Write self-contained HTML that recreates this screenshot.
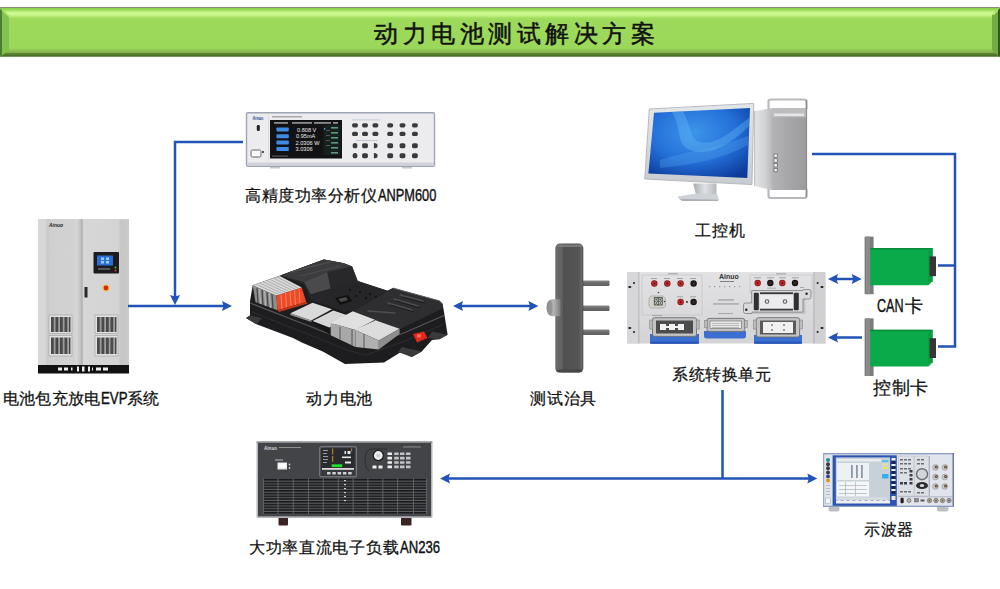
<!DOCTYPE html>
<html><head><meta charset="utf-8">
<style>
html,body{margin:0;padding:0;background:#fff;}
body{width:1000px;height:589px;position:relative;overflow:hidden;font-family:"Liberation Sans",sans-serif;}
.bar{position:absolute;left:0;top:7px;width:1000px;height:50px;
background:linear-gradient(to bottom,#8b8a7a 0px,#8b8a7a 0.8px,#8ed24c 1.2px,#98de58 3px,#c6f488 5px,#d2f994 7px,#bdef7c 9px,#a2dd60 11px,#9dd95a 13px,#9bd75a 41px,#92c756 43px,#84ae4e 45.5px,#5c8634 46.5px,#4a7326 48.5px,#8fa47e 50px);}
.bl{position:absolute;left:0;top:7px;width:9px;height:50px;}
.br{position:absolute;right:0;top:7px;width:9px;height:50px;}
.title{position:absolute;left:374px;top:16.5px;font-size:23.5px;letter-spacing:4.5px;-webkit-text-stroke:0.5px #111;color:#111;white-space:nowrap;line-height:34px;}
.lbl{position:absolute;white-space:nowrap;color:#111;line-height:20px;-webkit-text-stroke:0.25px #111;z-index:5}
.lat{transform:scaleX(0.78);transform-origin:0 0;-webkit-text-stroke:0.4px #111;}
svg{position:absolute;left:0;top:0;}
</style></head><body>
<div class="bar"></div>
<svg width="1000" height="589" viewBox="0 0 1000 589" style="z-index:1">
  <!-- bevel left -->
  <polygon points="0,7 9,16 9,50 0,57" fill="#82c24f"/>
  <polygon points="0,7 2,9 2,55 0,57" fill="#4d7d2f"/>
  <polygon points="0,7 9,16 9,18 0,9" fill="#b4ec78" opacity="0.6"/>
  <!-- bevel right -->
  <polygon points="1000,7 992,15 992,50 1000,57" fill="#74ac44"/>
  <polygon points="1000,7 992,15 994,15 1000,9" fill="#b4ea7c"/>
  <polygon points="1000,8 998,10 998,55 1000,57" fill="#2f5a1a"/>
</svg>

<svg width="1000" height="589" viewBox="0 0 1000 589" style="z-index:1">
<defs>
  <linearGradient id="gCab" x1="0" x2="1" y1="0" y2="0">
    <stop offset="0" stop-color="#d8d8d8"/><stop offset="0.08" stop-color="#d6d6d6"/><stop offset="0.1" stop-color="#c9c9c9"/><stop offset="0.14" stop-color="#d0d0d0"/>
    <stop offset="0.4" stop-color="#d2d2d2"/><stop offset="0.42" stop-color="#d8d8d8"/><stop offset="0.46" stop-color="#c6c6c6"/>
    <stop offset="0.485" stop-color="#b0b0b0"/><stop offset="0.5" stop-color="#d6d6d6"/><stop offset="0.88" stop-color="#d4d4d4"/>
    <stop offset="0.91" stop-color="#c6c6c6"/><stop offset="1" stop-color="#cbcbcb"/>
  </linearGradient>
  <pattern id="pVent" x="51" y="0" width="4.5" height="4" patternUnits="userSpaceOnUse">
    <rect width="4.5" height="4" fill="#4a4a4a"/><rect x="2.8" width="1.7" height="4" fill="#a0a0a0"/>
  </pattern>
  <pattern id="pVent2" x="97" y="0" width="4.5" height="4" patternUnits="userSpaceOnUse">
    <rect width="4.5" height="4" fill="#4a4a4a"/><rect x="2.8" width="1.7" height="4" fill="#a0a0a0"/>
  </pattern>
</defs>

<!-- Power analyzer -->
<g id="anpm">
  <rect x="246.5" y="112.8" width="188" height="53.5" rx="1.5" fill="#ececee" stroke="#9ea4b4" stroke-width="1.4"/>
  <rect x="247.2" y="162.5" width="186.6" height="3.3" fill="#cfd2da"/>
  <rect x="268" y="115" width="1" height="46" fill="#dcdcdf"/>
  <text x="252.5" y="119.5" font-family="Liberation Sans" font-size="5" font-weight="bold" fill="#2a4a8a" textLength="11" lengthAdjust="spacingAndGlyphs">Ainuo</text>
  <rect x="256.8" y="125" width="3" height="6" rx="1.2" fill="#222"/>
  <rect x="251" y="150" width="10" height="7" rx="1.5" fill="#fafafa" stroke="#666" stroke-width="1"/>
  <rect x="262" y="151" width="2" height="2" fill="#555"/>
  <rect x="272" y="116.2" width="30" height="1.2" fill="#9a9a9a"/>
  <rect x="270" y="120" width="72" height="38.5" fill="#121214"/>
  <g fill="#8a8c90"><rect x="274" y="122" width="14" height="1.8"/><rect x="292" y="122" width="20" height="1.8"/><rect x="314" y="122" width="17" height="1.8"/><rect x="333" y="122" width="5" height="1.8"/></g>
  <g fill="#3d8be6">
    <rect x="276.4" y="127.4" width="12.4" height="4" rx="0.8"/>
    <rect x="276.4" y="134.2" width="12.4" height="4" rx="0.8"/>
    <rect x="276.4" y="140.6" width="12.4" height="4" rx="0.8"/>
    <rect x="276.4" y="147" width="12.4" height="4" rx="0.8"/>
  </g>
  <g fill="#ececec" font-family="Liberation Sans" font-size="5.6">
    <text x="297" y="131.6">0.808 V</text>
    <text x="296" y="138.4">0.95mA</text>
    <text x="295.5" y="144.8">2.0306 W</text>
    <text x="295.5" y="151.2">3.0306</text>
  </g>
  <rect x="323.5" y="125" width="17" height="30" fill="#16201c"/>
  <circle cx="324.6" cy="128.8" r="0.9" fill="#4a9ae8"/>
  <g fill="#5a9a82"><rect x="331" y="127" width="7" height="1.6"/><rect x="331" y="132" width="7" height="1.6"/><rect x="331" y="137" width="7" height="1.6"/><rect x="331" y="142" width="7" height="1.6"/><rect x="331" y="147" width="7" height="1.6"/><rect x="331" y="152" width="7" height="1.6"/></g>
  <g fill="#5a5060"><rect x="326" y="130" width="4" height="1"/><rect x="326" y="135" width="4" height="1"/><rect x="326" y="140" width="4" height="1"/><rect x="326" y="145" width="4" height="1"/></g>
  <rect x="272" y="155.5" width="16" height="1.2" fill="#555"/>
  <g fill="#3a3a3c">
    <rect x="352.1" y="123.14999999999999" width="5.8" height="4.3" rx="1.6"/>
    <rect x="362.1" y="123.14999999999999" width="5.8" height="4.3" rx="1.6"/>
    <rect x="372.5" y="123.14999999999999" width="5.8" height="4.3" rx="1.6"/>
    <rect x="387.3" y="123.14999999999999" width="5.8" height="4.3" rx="1.6"/>
    <rect x="399.6" y="123.14999999999999" width="5.8" height="4.3" rx="1.6"/>
    <rect x="412.0" y="123.14999999999999" width="5.8" height="4.3" rx="1.6"/>
    <rect x="352.1" y="131.75" width="5.8" height="4.3" rx="1.6"/>
    <rect x="362.1" y="131.75" width="5.8" height="4.3" rx="1.6"/>
    <rect x="372.5" y="131.75" width="5.8" height="4.3" rx="1.6"/>
    <rect x="387.3" y="131.75" width="5.8" height="4.3" rx="1.6"/>
    <rect x="399.6" y="131.75" width="5.8" height="4.3" rx="1.6"/>
    <rect x="412.0" y="131.75" width="5.8" height="4.3" rx="1.6"/>
    <ellipse cx="355" cy="145.7" rx="2.4" ry="2.6"/>
    <rect x="362.1" y="143.2" width="5.8" height="5.0" rx="1.6"/>
    <path d="M373.9,143.1 Q377.59999999999997,143.1 377.59999999999997,145.7 Q377.59999999999997,148.29999999999998 373.9,148.29999999999998 Z"/>
    <rect x="387.3" y="143.2" width="5.8" height="5.0" rx="1.6"/>
    <rect x="399.6" y="143.2" width="5.8" height="5.0" rx="1.6"/>
    <rect x="412.0" y="143.2" width="5.8" height="5.0" rx="1.6"/>
    <ellipse cx="355" cy="155.7" rx="2.4" ry="2.6"/>
    <rect x="362.1" y="153.2" width="5.8" height="5.0" rx="1.6"/>
    <path d="M373.9,153.1 Q377.59999999999997,153.1 377.59999999999997,155.7 Q377.59999999999997,158.29999999999998 373.9,158.29999999999998 Z"/>
    <rect x="387.3" y="153.2" width="5.8" height="5.0" rx="1.6"/>
    <rect x="399.6" y="153.2" width="5.8" height="5.0" rx="1.6"/>
    <rect x="412.0" y="153.2" width="5.8" height="5.0" rx="1.6"/>
  </g>
  <rect x="352" y="119.5" width="28" height="0.8" fill="#b8bfd0"/>
  <rect x="356" y="140" width="22" height="0.8" fill="#b8bfd0"/>
  <rect x="270" y="167" width="10" height="1.5" fill="#c8c8c8"/>
  <rect x="402" y="167" width="10" height="1.5" fill="#c8c8c8"/>
</g>

<!-- Battery pack -->
<g id="batt">
  <!-- base silhouette -->
  <polygon points="246,318 250,315.5 250,301.3 252.7,285.3 280.3,275.4 323.9,259.4 343.8,263.2 352.1,266.6 357.7,281 387.5,290.8 393,288 439.3,300.8 442.6,304 444,312 447.6,334.8 439.3,339.2 432,340 421.7,351.4 411.7,356.9 401,352 384,362.4 345,364 322.8,351.4 301.8,342.5 293,338.1 256.6,324.3" fill="#1d1d1f"/>
  <!-- rails lighter -->
  <polygon points="246,318 250,315.5 262,318 256.6,324.3" fill="#3a3a3c"/>
  <polygon points="432,331.5 447.6,334.8 439.3,339.2 428,338" fill="#3a3a3c"/>
  <polygon points="401.8,347 421.7,351.4 411.7,356.9 398,352" fill="#3a3a3c"/>
  <!-- tray rim -->
  <polyline points="250,303 300,322.5 350,342 366,346.5 405,332.5 444,315.5" fill="none" stroke="#56565a" stroke-width="1.3"/>
  <polyline points="252,312 300,331 350,351 366,355 405,341 444,324" fill="none" stroke="#2e2e30" stroke-width="1"/>
  <!-- middle low area -->
  <polygon points="304,284 357.7,281 387.5,290.8 393,288 356,309.6 345,312 330,306 310,300" fill="#262628"/>
  <g fill="#141414"><circle cx="350" cy="290" r="1.2"/><circle cx="360" cy="292" r="1.2"/><circle cx="370" cy="294" r="1.2"/><circle cx="356" cy="296" r="1.2"/><circle cx="366" cy="298" r="1.2"/><circle cx="376" cy="297" r="1.2"/></g>
  <polygon points="335,298 348,295 352,301 340,305" fill="#101010"/>
  <polygon points="338,299 346,297 348,300 341,302" fill="#4a4a4c"/>
  <!-- hump -->
  <polygon points="280.3,275.4 323.9,259.4 343.8,263.2 352.1,266.6 357.7,281 330.5,288.6 310.7,294.2 304,284.2" fill="#28282a"/>
  <polygon points="280.3,275.4 323.9,259.4 343.8,263.2 352.1,266.6 327.2,272 304,282" fill="#3c3c3f"/>
  <polygon points="304,282 327.2,272 330.5,288.6 310.7,294.2" fill="#4a4a4d"/>
  <line x1="290" y1="272" x2="330" y2="262" stroke="#5a5a5e" stroke-width="0.8"/>
  <line x1="300" y1="276" x2="340" y2="266" stroke="#555" stroke-width="0.7"/>
  <!-- right cover -->
  <polygon points="393,288 439.3,300.8 442.6,304 442.6,308.3 399.6,329.3 376.4,320.5 353.2,311 356,309.6" fill="#2e2e31"/>
  <polyline points="393,288 439.3,300.8 442.6,304" fill="none" stroke="#6a6a6e" stroke-width="0.9"/>
  <g stroke="#4e4e52" stroke-width="1.4" stroke-linecap="round">
    <line x1="400" y1="295" x2="423" y2="301"/><line x1="394" y1="299" x2="418" y2="306"/><line x1="388" y1="303" x2="412" y2="310"/>
    <line x1="368" y1="311" x2="395" y2="313"/>
  </g>
  <g stroke="#1a1a1a" stroke-width="0.9"><line x1="402" y1="297" x2="425" y2="303"/><line x1="396" y1="301" x2="420" y2="308"/><line x1="390" y1="305" x2="414" y2="312"/></g>
  <!-- silver cells left -->
  <polygon points="252.7,285.3 279.7,276 301.8,287.5 276.4,295.8" fill="#d9d9d9"/>
  <g stroke="#9a9a9a" stroke-width="0.7">
    <line x1="256" y1="284.2" x2="279.5" y2="294.8"/><line x1="259.5" y1="283" x2="282.7" y2="293.7"/><line x1="263" y1="281.8" x2="286" y2="292.6"/>
    <line x1="266.5" y1="280.6" x2="289.2" y2="291.6"/><line x1="270" y1="279.4" x2="292.4" y2="290.5"/><line x1="273.5" y1="278.2" x2="295.6" y2="289.5"/><line x1="277" y1="277" x2="298.8" y2="288.5"/>
  </g>
  <polygon points="252.7,285.3 276.4,295.8 277.5,310.2 255.5,301.9" fill="#8e8e8e"/>
  <g stroke="#4a4a4a" stroke-width="1.3"><line x1="257" y1="288" x2="258" y2="303"/><line x1="262" y1="290" x2="263" y2="305"/><line x1="267" y1="292.2" x2="268" y2="307"/><line x1="272" y1="294.3" x2="273" y2="309"/></g>
  <g stroke="#c4c4c4" stroke-width="0.8"><line x1="259.5" y1="289" x2="260.5" y2="304"/><line x1="264.5" y1="291" x2="265.5" y2="306"/><line x1="269.5" y1="293.2" x2="270.5" y2="308"/></g>
  <!-- orange -->
  <polygon points="276.4,295.8 301.8,287.5 306.2,301.9 277.5,310.2" fill="#ec4a26"/>
  <g stroke="#ff9a7a" stroke-width="0.7"><line x1="281" y1="294.3" x2="282" y2="309"/><line x1="285.5" y1="292.8" x2="286.5" y2="307.6"/><line x1="290" y1="291.3" x2="291" y2="306.3"/><line x1="294.5" y1="289.8" x2="295.5" y2="305"/><line x1="299" y1="288.4" x2="300" y2="303.6"/></g>
  <polygon points="277.5,310.2 306.2,301.9 308,303.5 279,312" fill="#c0381c"/>
  <!-- silver modules front -->
  <polygon points="289,314 312.5,302.8 333,309.3 349,315.8 376,320 399.6,328.8 399.6,334 379,349.6 355.4,347 330.7,335.3 311,321" fill="#161616"/>
  <polygon points="290.4,313.2 312.5,302.8 332,309.3 311.2,320.4" fill="#dadada"/>
  <polygon points="290.4,313.2 311.2,320.4 311.5,322 290.4,315" fill="#9a9a9a"/>
  <polygon points="312.5,321 333.3,310.6 349,315.8 329.4,327.5" fill="#d6d6d6"/>
  <polygon points="330.7,323 352.8,311.3 375,319.7 355.4,330.1" fill="#e0e0e0"/>
  <polygon points="330.7,323 355.4,330.1 355.4,347 330.7,335.3" fill="#a8a8a8"/>
  <polygon points="355.4,330.1 376.2,320.4 399.6,328.8 378.8,340.5" fill="#dcdcdc"/>
  <polygon points="355.4,330.1 378.8,340.5 378.8,349.6 355.4,347" fill="#b0b0b0"/>
  <polygon points="378.8,340.5 399.6,328.8 399.6,334 378.8,349.6" fill="#8e8e8e"/>
  <g stroke="#555" stroke-width="1"><line x1="340" y1="327" x2="340" y2="339.5"/><line x1="352" y1="329" x2="352" y2="345"/><line x1="364" y1="334" x2="364" y2="348"/></g>
  <line x1="355.4" y1="330.1" x2="376.2" y2="320.4" stroke="#f4f4f4" stroke-width="0.8"/>
  <!-- red connector -->
  <polygon points="413,334 424,331.5 427.5,338 417,342.5" fill="#e02a1e"/>
  <rect x="417" y="334.5" width="4" height="3" fill="#ff6a55"/>
</g>
<!-- Test fixture -->
<g id="fix">
  <defs>
    <linearGradient id="gFix" x1="0" x2="1" y1="0" y2="0">
      <stop offset="0" stop-color="#6e6e6e"/><stop offset="0.08" stop-color="#6a6a6a"/><stop offset="0.26" stop-color="#5e5e5e"/><stop offset="0.28" stop-color="#505050"/>
      <stop offset="0.85" stop-color="#555555"/><stop offset="0.93" stop-color="#6a6a6a"/><stop offset="1" stop-color="#4a4a4a"/>
    </linearGradient>
    <linearGradient id="gKnob" x1="0" x2="1" y1="0" y2="0">
      <stop offset="0" stop-color="#8a8a8a"/><stop offset="0.3" stop-color="#a4a4a4"/><stop offset="0.5" stop-color="#b4b4b4"/><stop offset="0.75" stop-color="#9a9a9a"/><stop offset="1" stop-color="#7a7a7a"/>
    </linearGradient>
    <linearGradient id="gPin" x1="0" x2="0" y1="0" y2="1">
      <stop offset="0" stop-color="#8a8a8a"/><stop offset="0.4" stop-color="#6e6e6e"/><stop offset="1" stop-color="#5e5e5e"/>
    </linearGradient>
  </defs>
  <g fill="url(#gPin)">
    <rect x="582" y="280.5" width="27.5" height="5.5" rx="1"/>
    <rect x="582" y="305.5" width="27.5" height="5.5" rx="1"/>
    <rect x="582" y="329.5" width="27.5" height="5.5" rx="1"/>
  </g>
  <rect x="555.3" y="243.6" width="28" height="129.2" rx="4.5" fill="url(#gFix)"/>
  <rect x="556.5" y="244.5" width="25.5" height="2.5" rx="1.2" fill="#787878"/>
  <rect x="556.5" y="369.5" width="25.5" height="2.5" rx="1.2" fill="#474747"/>
  <path d="M553,299.3 H560.5 V316.2 H553 Q546.5,316.2 546.5,307.7 Q546.5,299.3 553,299.3 Z" fill="url(#gKnob)"/>
  <ellipse cx="550" cy="307.7" rx="2.5" ry="7.5" fill="#8c8c8c" opacity="0.6"/>
</g>
<!-- Conversion unit -->
<g id="conv">
  <defs>
    <linearGradient id="gConv" x1="0" x2="0" y1="0" y2="1">
      <stop offset="0" stop-color="#e2e2e4"/><stop offset="1" stop-color="#d4d4d6"/>
    </linearGradient>
  </defs>
  <rect x="627" y="272" width="198.5" height="71.5" fill="url(#gConv)"/>
  <rect x="627" y="272" width="11.5" height="71.5" fill="#d7d7d9"/>
  <rect x="638.5" y="272" width="0.8" height="71.5" fill="#a8a8aa"/>
  <rect x="814" y="272" width="11.5" height="71.5" fill="#d0d0d2"/>
  <rect x="813.5" y="272" width="0.8" height="71.5" fill="#a8a8aa"/>
  <g fill="#1a1a1a">
    <ellipse cx="629.8" cy="287" rx="1.6" ry="1.1"/><circle cx="634" cy="283" r="1"/>
    <ellipse cx="629.8" cy="328" rx="1.6" ry="1.1"/><circle cx="634" cy="332" r="1"/>
    <ellipse cx="822" cy="287" rx="1.6" ry="1.1"/><circle cx="817.6" cy="283" r="1"/>
    <ellipse cx="822" cy="328" rx="1.6" ry="1.1"/><circle cx="817.6" cy="332" r="1"/>
  </g>
  <rect x="642" y="275" width="60" height="40" fill="none" stroke="#c4c4c6" stroke-width="0.7"/>
  <rect x="750" y="275" width="62" height="18" fill="none" stroke="#c4c4c6" stroke-width="0.7"/>
  <!-- terminals -->
  <g>
    <circle cx="654.3" cy="283.5" r="3.2" fill="#7a1a1a"/><circle cx="654.3" cy="283.5" r="2.5" fill="#c8282a"/><circle cx="654.3" cy="283.5" r="1" fill="#5a1010"/>
    <circle cx="667.3" cy="283.5" r="3.2" fill="#7a1a1a"/><circle cx="667.3" cy="283.5" r="2.5" fill="#c8282a"/><circle cx="667.3" cy="283.5" r="1" fill="#5a1010"/>
    <circle cx="680.6" cy="283.5" r="3.2" fill="#7a1a1a"/><circle cx="680.6" cy="283.5" r="2.5" fill="#c8282a"/><circle cx="680.6" cy="283.5" r="1" fill="#5a1010"/>
    <circle cx="693.6" cy="283.5" r="3.2" fill="#111"/><circle cx="693.6" cy="283.5" r="2.3" fill="#2a2020"/><circle cx="693.6" cy="283.5" r="1" fill="#4a2a2a"/>
    <circle cx="680.6" cy="302" r="3.2" fill="#7a1a1a"/><circle cx="680.6" cy="302" r="2.5" fill="#c8282a"/><circle cx="680.6" cy="302" r="1" fill="#5a1010"/>
    <circle cx="693.6" cy="302" r="3.2" fill="#111"/><circle cx="693.6" cy="302" r="2.3" fill="#2a2020"/><circle cx="693.6" cy="302" r="1" fill="#4a2a2a"/>
    <circle cx="757.7" cy="283" r="3.2" fill="#7a1a1a"/><circle cx="757.7" cy="283" r="2.5" fill="#c8282a"/><circle cx="757.7" cy="283" r="1" fill="#5a1010"/>
    <circle cx="770.3" cy="283" r="3.2" fill="#111"/><circle cx="770.3" cy="283" r="2.3" fill="#2a2020"/><circle cx="770.3" cy="283" r="1" fill="#4a2a2a"/>
    <circle cx="782.3" cy="283" r="3.2" fill="#7a1a1a"/><circle cx="782.3" cy="283" r="2.5" fill="#c8282a"/><circle cx="782.3" cy="283" r="1" fill="#5a1010"/>
    <circle cx="795" cy="283" r="3.2" fill="#111"/><circle cx="795" cy="283" r="2.3" fill="#2a2020"/><circle cx="795" cy="283" r="1" fill="#4a2a2a"/>
    <circle cx="687" cy="302" r="0.9" fill="#222"/>
    <g fill="#888"><rect x="651" y="278" width="6" height="0.7"/><rect x="664" y="278" width="6" height="0.7"/><rect x="677" y="278" width="6" height="0.7"/><rect x="690" y="278" width="6" height="0.7"/><rect x="677" y="296.5" width="6" height="0.7"/><rect x="690" y="296.5" width="6" height="0.7"/><rect x="754" y="277.5" width="7" height="0.7"/><rect x="767" y="277.5" width="7" height="0.7"/><rect x="779" y="277.5" width="7" height="0.7"/><rect x="792" y="277.5" width="7" height="0.7"/><rect x="668" y="273.5" width="10" height="0.7"/><rect x="776" y="273.5" width="10" height="0.7"/><rect x="767" y="287.8" width="9" height="0.6"/><rect x="800" y="287" width="4" height="0.6"/></g>
  </g>
  <!-- small connector -->
  <path d="M651,296 H663 L665.5,298.5 V306 L663.5,308 H651 L649,306 V298 Z" fill="#d4d2cc" stroke="#9a9890" stroke-width="0.6"/>
  <rect x="653.8" y="297" width="9" height="8.5" rx="1" fill="#4e5a52"/>
  <g fill="none" stroke="#e8ece8" stroke-width="0.7"><circle cx="656.3" cy="299.6" r="1.3"/><circle cx="660.3" cy="299.6" r="1.3"/><circle cx="656.3" cy="303" r="1.3"/><circle cx="660.3" cy="303" r="1.3"/></g>
  <circle cx="664.5" cy="301.5" r="0.7" fill="#333"/>
  <circle cx="658.5" cy="292.5" r="0.8" fill="#444"/>
  <!-- logo + leds -->
  <text x="719" y="278.5" font-family="Liberation Sans" font-size="7" font-weight="bold" fill="#333">Ainuo</text>
  <rect x="720" y="281" width="14" height="0.9" fill="#777"/>
  <g fill="#999"><rect x="709" y="286" width="1.2" height="1.2"/><rect x="714" y="286" width="1.2" height="1.2"/><rect x="719" y="286" width="1.2" height="1.2"/><rect x="724" y="286" width="1.2" height="1.2"/><rect x="729" y="286" width="1.2" height="1.2"/><rect x="734" y="286" width="1.2" height="1.2"/><rect x="739" y="286" width="1.2" height="1.2"/></g>
  <rect x="718" y="299.5" width="16" height="0.9" fill="#888"/>
  <rect x="713" y="303.5" width="26" height="0.9" fill="#888"/>
  <rect x="718" y="313" width="15" height="0.8" fill="#999"/>
  <rect x="652" y="315" width="10" height="0.8" fill="#999"/>
  <!-- right housing -->
  <rect x="752.5" y="292" width="53" height="22" fill="#b8b8ba" opacity="0.6"/>
  <path d="M751.7,290.5 H803 V290 Q803,289.5 804,289.5 H809 Q811,289.5 811,292 V297 Q811,299 809,299 H803 V312.1 H752 V313.5 H745.5 Q743.5,313.5 743.5,311.5 V305 Q743.5,303 745.5,303 H751.7 Z" fill="#dadadc" stroke="#7e7e80" stroke-width="0.8"/>
  <rect x="753.8" y="292.8" width="5" height="17.5" rx="1" fill="#303032"/>
  <rect x="793.8" y="292.8" width="5" height="17.5" rx="1" fill="#303032"/>
  <rect x="760" y="292.3" width="33" height="2" fill="#3a3a3c"/>
  <rect x="760" y="308.5" width="33" height="2" fill="#3a3a3c"/>
  <rect x="760" y="294.5" width="33" height="14" fill="#ececee"/>
  <circle cx="767" cy="301.5" r="2.3" fill="#555"/><circle cx="785" cy="301.5" r="2.3" fill="#555"/>
  <circle cx="767" cy="301.5" r="1.3" fill="#e8e8e8"/><circle cx="785" cy="301.5" r="1.3" fill="#e8e8e8"/>
  <circle cx="806.6" cy="293.8" r="1.2" fill="#222"/><circle cx="746.3" cy="309.7" r="1.2" fill="#222"/>
  <!-- bottom connectors -->
  <g>
    <path d="M650,334 H699 V340.5 Q699,343.8 695,343.8 H654 Q650,343.8 650,340.5 Z" fill="#3b6fd2"/>
    <rect x="650" y="341.5" width="49" height="2.3" fill="#2a58b8"/>
    <rect x="652.5" y="317.7" width="44" height="18.7" rx="2" fill="#c4c4c4" stroke="#6e6e6e" stroke-width="0.9"/>
    <rect x="649.8" y="320" width="3" height="9" fill="#bbb" stroke="#777" stroke-width="0.5"/><rect x="696.2" y="320" width="3" height="9" fill="#bbb" stroke="#777" stroke-width="0.5"/>
    <rect x="656" y="320.5" width="37" height="13" fill="#4c4c4e"/>
    <path d="M660,324 h6 v2 h3 v-2 h6 v2 h3 v-2 h6 v6 h-6 v-2 h-3 v2 h-6 v-2 h-3 v2 h-6 z" fill="#f2f2f2"/>
    <path d="M704,331 H746 V336 Q746,338.5 743,338.5 H707 Q704,338.5 704,336 Z" fill="#3b6fd2"/>
    <rect x="707" y="318.4" width="37.7" height="13" rx="2" fill="#c4c4c4" stroke="#6e6e6e" stroke-width="0.9"/>
    <rect x="704.5" y="320.5" width="2.8" height="7" fill="#bbb" stroke="#777" stroke-width="0.5"/><rect x="744.5" y="320.5" width="2.8" height="7" fill="#bbb" stroke="#777" stroke-width="0.5"/>
    <rect x="710" y="321" width="31.5" height="7.5" fill="#e8e8e8" stroke="#666" stroke-width="0.6"/>
    <g fill="#999"><rect x="712" y="323" width="27" height="0.6"/><rect x="712" y="325" width="27" height="0.6"/><rect x="712" y="327" width="27" height="0.6"/></g>
    <path d="M754,335 H802 V340.5 Q802,343.8 798,343.8 H758 Q754,343.8 754,340.5 Z" fill="#3b6fd2"/>
    <rect x="754" y="341.5" width="48" height="2.3" fill="#2a58b8"/>
    <rect x="756.3" y="317.7" width="43.3" height="19.3" rx="2" fill="#c4c4c4" stroke="#6e6e6e" stroke-width="0.9"/>
    <rect x="753.6" y="320" width="3" height="9" fill="#bbb" stroke="#777" stroke-width="0.5"/><rect x="799.4" y="320" width="3" height="9" fill="#bbb" stroke="#777" stroke-width="0.5"/>
    <rect x="760" y="320.5" width="36" height="14" fill="#5a5a5c"/>
    <rect x="763" y="322" width="30" height="11" fill="#f0f0f0"/>
    <g fill="#777"><circle cx="772" cy="325" r="0.9"/><circle cx="784" cy="325" r="0.9"/><circle cx="772" cy="330" r="0.9"/><circle cx="784" cy="330" r="0.9"/></g>
  </g>
</g>
</g>

<!-- PC -->
<g id="pc">
  <defs>
    <radialGradient id="gScr" cx="0.45" cy="0.35" r="0.75">
      <stop offset="0" stop-color="#3c95ea"/><stop offset="0.55" stop-color="#2470d8"/><stop offset="1" stop-color="#0c3a9a"/>
    </radialGradient>
    <linearGradient id="gTowerF" x1="0" x2="1" y1="0" y2="0">
      <stop offset="0" stop-color="#b4b4b6"/><stop offset="0.5" stop-color="#a6a6a8"/><stop offset="1" stop-color="#9c9c9e"/>
    </linearGradient>
    <linearGradient id="gTowerS" x1="0" x2="1" y1="0" y2="0">
      <stop offset="0" stop-color="#e2e3e5"/><stop offset="0.6" stop-color="#d2d3d5"/><stop offset="1" stop-color="#b8b9bb"/>
    </linearGradient>
    <linearGradient id="gStand" x1="0" x2="1" y1="0" y2="0">
      <stop offset="0" stop-color="#a8acb0"/><stop offset="0.5" stop-color="#dfe2e5"/><stop offset="1" stop-color="#b4b8bc"/>
    </linearGradient>
    <linearGradient id="gBezel" x1="0" x2="0" y1="0" y2="1">
      <stop offset="0" stop-color="#e4e7ea"/><stop offset="1" stop-color="#c8ccd0"/>
    </linearGradient>
  </defs>
  <!-- tower -->
  <polygon points="754.6,111 772,108.3 772,190 754.6,186" fill="url(#gTowerS)"/>
  <line x1="754.6" y1="111" x2="754.6" y2="186" stroke="#b0b0b2" stroke-width="0.8"/>
  <rect x="772" y="108.3" width="34.5" height="81.7" fill="url(#gTowerF)"/>
  <rect x="772" y="108.3" width="34.5" height="9" fill="#bdbdbf"/>
  <rect x="774" y="113.5" width="30" height="2.5" fill="#e6e6e8"/>
  <path d="M768.5,109 V101.5 Q768.5,99.5 771,99.5 H804 Q806.5,99.5 806.5,101.5 V109" fill="none" stroke="#b8b9bc" stroke-width="2.2"/>
  <path d="M768.5,189 V196 Q768.5,198 771,198 H804 Q806.5,198 806.5,196 V189" fill="none" stroke="#b8b9bc" stroke-width="2.2"/>
  <line x1="806.5" y1="100" x2="806.5" y2="197" stroke="#8c8c8e" stroke-width="1.2"/>
  <g fill="#f2f2f2" stroke="#555" stroke-width="0.6"><rect x="774" y="154" width="3.2" height="3.4"/><rect x="774" y="158.8" width="3.2" height="3.4"/><rect x="774" y="163.6" width="3.2" height="3.4"/><rect x="774" y="168.4" width="3.2" height="3.4"/></g>
  <!-- stand -->
  <polygon points="693.2,183.6 716.5,183.6 716.5,194.8 696,194.8" fill="url(#gStand)"/>
  <polygon points="677.3,196.5 697,193.5 717,194 719,199.5 680,200" fill="#cfd3d7"/>
  <polygon points="680,199 719,199.5 718,201 682,201" fill="#a9adb2"/>
  <!-- monitor -->
  <polygon points="649.3,109 753.8,103.4 752,184.6 644.7,179" fill="url(#gBezel)" stroke="#a8acb2" stroke-width="0.8"/>
  <polygon points="654,112.7 750,108 747.3,178 648.4,173.4" fill="url(#gScr)"/>
  <path d="M683,111.5 C692,128 690,140 700,142 C718,146 735,128 749,118 L749,126 C735,140 712,158 690,150 C676,145 682,128 672,112 Z" fill="#6cc0f8" opacity="0.35"/>
  <path d="M660,160 C690,150 720,148 748,136 L748,145 C720,160 690,165 660,168 Z" fill="#5aaaf0" opacity="0.3"/>
</g>
<!-- Cards -->
<g id="cards">
  <rect x="864.6" y="236.6" width="9" height="57.6" fill="#7c7c7e"/>
  <rect x="866" y="236.6" width="4" height="57.6" fill="#8a8a8c"/>
  <polygon points="870.2,248 932.6,248 932.6,281 928.5,285.2 870.2,285.2" fill="#0aaa4a"/>
  <rect x="870.2" y="248" width="62.4" height="1.4" fill="#078a3a"/>
  <rect x="928" y="249" width="4.6" height="33" fill="#0c9c44"/>
  <rect x="929.6" y="256.4" width="6.4" height="19.8" fill="#3a3436"/>
  <rect x="864.6" y="318.4" width="9" height="57.6" fill="#7c7c7e"/>
  <rect x="866" y="318.4" width="4" height="57.6" fill="#8a8a8c"/>
  <polygon points="870.2,329.8 932.6,329.8 932.6,362.2 928.5,366.4 870.2,366.4" fill="#0aaa4a"/>
  <rect x="870.2" y="329.8" width="62.4" height="1.4" fill="#078a3a"/>
  <rect x="928" y="331" width="4.6" height="32" fill="#0c9c44"/>
  <rect x="929.6" y="338.2" width="6.4" height="19.8" fill="#3a3436"/>
</g>
<!-- Electronic load -->
<g id="load">
  <defs>
    <pattern id="pGrill" x="0" y="479" width="4" height="2.75" patternUnits="userSpaceOnUse">
      <rect width="4" height="2.75" fill="#5c5e62"/><rect width="4" height="1.6" fill="#18181a"/>
    </pattern>
  </defs>
  <rect x="278.5" y="516" width="9.5" height="9.5" rx="1" fill="#3a2424"/>
  <rect x="401" y="516" width="10.5" height="9.5" rx="1" fill="#3a2424"/>
  <rect x="256.5" y="441.5" width="176" height="76.5" rx="1.5" fill="#b4b5b8"/>
  <rect x="256.5" y="441.5" width="176" height="1.2" fill="#7a7c80"/>
  <rect x="258" y="443" width="173" height="73.3" fill="#424448"/>
  <rect x="263" y="479" width="164" height="35.5" fill="url(#pGrill)"/>
  <g fill="#6a6c70">
    <rect x="263" y="478.5" width="0.8" height="35.5"/><rect x="277.6" y="478.5" width="0.8" height="35.5"/><rect x="292.8" y="478.5" width="0.8" height="35.5"/>
    <rect x="308" y="478.5" width="0.8" height="35.5"/><rect x="322.8" y="478.5" width="0.8" height="35.5"/><rect x="337.8" y="478.5" width="0.8" height="35.5"/>
    <rect x="352.7" y="478.5" width="0.8" height="35.5"/><rect x="367.5" y="478.5" width="0.8" height="35.5"/><rect x="382.5" y="478.5" width="0.8" height="35.5"/>
    <rect x="397.3" y="478.5" width="0.8" height="35.5"/><rect x="413" y="478.5" width="0.8" height="35.5"/><rect x="426" y="478.5" width="0.8" height="35.5"/>
  </g>
  <g fill="#cfcfcf"><rect x="344" y="480" width="2" height="1.2"/><rect x="344" y="484" width="2" height="1.2"/><rect x="344" y="488" width="2" height="1.2"/><rect x="344" y="492" width="2" height="1.2"/><rect x="344" y="496" width="2" height="1.2"/><rect x="344" y="500" width="2" height="1.2"/></g>
  <text x="264" y="449.5" font-family="Liberation Sans" font-size="5.5" font-weight="bold" fill="#d8d8dc" textLength="13" lengthAdjust="spacingAndGlyphs">Ainuo</text>
  <rect x="279" y="447" width="22" height="0.9" fill="#999"/>
  <!-- power switch -->
  <rect x="275" y="459.5" width="8" height="1" fill="#bbb"/>
  <rect x="277.5" y="462.5" width="9.5" height="7" fill="#e8e8e8"/>
  <rect x="278.5" y="463.5" width="7.5" height="4" fill="#fff"/>
  <circle cx="289.5" cy="464.5" r="0.9" fill="#ccc"/><circle cx="289.5" cy="468" r="0.9" fill="#ccc"/>
  <!-- screen -->
  <rect x="319.8" y="446.8" width="36.5" height="30" rx="1" fill="#38393d" stroke="#9a9ca2" stroke-width="0.8"/>
  <rect x="321.5" y="448.3" width="33" height="21" fill="#2a2b2e"/>
  <g fill="#aaa"><rect x="323" y="450" width="5" height="0.9"/><rect x="323" y="453" width="4" height="0.9"/><rect x="323" y="456" width="5" height="0.9"/><rect x="323" y="459" width="5" height="0.9"/><rect x="323" y="462" width="4" height="0.9"/></g>
  <g fill="#b07a30"><rect x="332" y="448.5" width="1.2" height="6"/><rect x="332" y="456" width="1.2" height="6"/><rect x="351" y="448.5" width="1.2" height="3"/></g>
  <g fill="#e8e8e8"><rect x="344.5" y="451" width="1.5" height="3"/><rect x="347.5" y="451" width="3" height="3"/><rect x="342" y="456.5" width="9" height="1.6"/><rect x="345" y="461.5" width="6" height="2"/></g>
  <rect x="331.7" y="464.3" width="10.5" height="2.8" fill="#22e030"/>
  <rect x="322" y="468" width="32" height="1.8" fill="#d8d8d8"/>
  <g fill="#d2d2d4"><rect x="327" y="472" width="3.5" height="2.5" rx="0.5"/><rect x="332.3" y="472" width="3.5" height="2.5" rx="0.5"/><rect x="337.6" y="472" width="3.5" height="2.5" rx="0.5"/><rect x="342.9" y="472" width="3.5" height="2.5" rx="0.5"/><rect x="348.2" y="472" width="3.5" height="2.5" rx="0.5"/></g>
  <!-- knob & keys -->
  <path d="M387,449 H372 Q365,449 365,460 Q365,470 370,471" stroke="#2a2b2e" stroke-width="0.9" fill="none"/>
  <rect x="403" y="446.5" width="18" height="0.9" fill="#9a9a9a"/>
  <circle cx="378.3" cy="455.5" r="5.6" fill="#1c1c1e"/>
  <circle cx="378.3" cy="455.5" r="4.4" fill="#f0f0f0"/>
  <circle cx="378.3" cy="455.5" r="2" fill="#cfcfcf"/>
  <g fill="#eeeeee">
    <rect x="372.5" y="465.5" width="4" height="3" rx="0.5"/><rect x="378.5" y="465.5" width="4" height="3" rx="0.5"/>
    <rect x="387.5" y="452.5" width="4.5" height="2.6" rx="0.5"/><rect x="387.5" y="456.8" width="4.5" height="2.6" rx="0.5"/><rect x="387.5" y="461.2" width="4.5" height="2.6" rx="0.5"/><rect x="387.5" y="465.6" width="4.5" height="2.6" rx="0.5"/>
  </g>
  <g fill="#c4c4c6">
    <rect x="394.2" y="452.5" width="4.5" height="2.6" rx="0.5"/><rect x="400" y="452.5" width="4.5" height="2.6" rx="0.5"/><rect x="406" y="452.5" width="4.5" height="2.6" rx="0.5"/>
    <rect x="394.2" y="456.8" width="4.5" height="2.6" rx="0.5"/><rect x="400" y="456.8" width="4.5" height="2.6" rx="0.5"/><rect x="406" y="456.8" width="4.5" height="2.6" rx="0.5"/>
    <rect x="394.2" y="461.2" width="4.5" height="2.6" rx="0.5"/><rect x="400" y="461.2" width="4.5" height="2.6" rx="0.5"/><rect x="406" y="461.2" width="4.5" height="2.6" rx="0.5"/>
    <rect x="394.2" y="465.6" width="4.5" height="2.6" rx="0.5"/><rect x="400" y="465.6" width="4.5" height="2.6" rx="0.5"/><rect x="406" y="465.6" width="4.5" height="2.6" rx="0.5"/>
  </g>
</g>
<!-- Oscilloscope -->
<g id="osc">
  <rect x="828.5" y="506" width="11" height="5.5" rx="2" fill="#bdbfc2"/>
  <rect x="937" y="506" width="11.5" height="5.5" rx="2" fill="#bdbfc2"/>
  <rect x="823" y="453" width="131" height="54" fill="#e1e4ea"/>
  <rect x="823" y="453" width="131" height="1.3" fill="#8a9ac0"/>
  <rect x="823" y="453" width="1.2" height="54" fill="#9aa8c8"/>
  <rect x="952.5" y="453" width="1.5" height="54" fill="#6a7aa8"/>
  <rect x="823" y="505.7" width="131" height="1.3" fill="#8a9ac0"/>
  <rect x="832.6" y="455.3" width="64.2" height="50.5" fill="#2b55b0"/>
  <rect x="835.8" y="457.4" width="54.2" height="43.1" fill="#c9d1d8"/>
  <rect x="837" y="459" width="44" height="2.5" fill="#e8ecf0"/>
  <rect x="837" y="463" width="32" height="17" fill="#eef1f4"/>
  <rect x="837" y="481.5" width="32" height="15" fill="#f4f6f8"/>
  <g fill="#8a98a8"><rect x="851" y="465" width="1.8" height="13"/><rect x="856" y="465" width="1.8" height="13"/><rect x="861" y="465" width="1.8" height="13"/></g>
  <g fill="#aab4be"><rect x="839" y="485" width="28" height="0.7"/><rect x="839" y="489" width="28" height="0.7"/><rect x="839" y="493" width="28" height="0.7"/><rect x="845" y="482" width="0.7" height="14"/><rect x="855" y="482" width="0.7" height="14"/></g>
  <rect x="837" y="497.5" width="50" height="2" fill="#d8dde2"/>
  <rect x="882" y="460" width="6.5" height="2.2" fill="#5ac0f0"/>
  <rect x="882" y="463.5" width="6.5" height="2" fill="#e8e0a0"/>
  <rect x="882" y="467" width="6.5" height="2" fill="#e0e870"/>
  <rect x="882" y="474" width="6.5" height="4.5" fill="#30b0f0"/>
  <g fill="#1a2450">
    <rect x="891.5" y="461" width="4" height="3"/><rect x="891.5" y="466" width="4" height="3"/><rect x="891.5" y="471" width="4" height="3"/><rect x="891.5" y="476" width="4" height="3"/><rect x="891.5" y="481" width="4" height="3"/><rect x="891.5" y="486" width="4" height="3"/><rect x="891.5" y="491" width="4" height="3"/>
  </g>
  <g fill="#f2f2f2">
    <rect x="891.5" y="458" width="4" height="2.5"/><rect x="891.5" y="464" width="4" height="2"/><rect x="891.5" y="469" width="4" height="2"/><rect x="891.5" y="474" width="4" height="2"/><rect x="891.5" y="479" width="4" height="2"/><rect x="891.5" y="484" width="4" height="2"/><rect x="891.5" y="489" width="4" height="2"/>
    <rect x="891.5" y="496" width="4" height="4" fill="#eee8c8"/>
  </g>
  <path d="M836,501 q3,-2 6,0 q3,-2 6,0 q3,-2 6,0 q3,-2 6,0 q3,-2 6,0 q3,-2 6,0 q3,-2 6,0 q3,-2 6,0 q3,-2 6,0 v2.5 h-54 z" fill="#f0f0f0"/>
  <g>
    <circle cx="828" cy="460" r="2" fill="#2a8a8e"/>
    <circle cx="828" cy="464.2" r="2" fill="#3a3a40"/><circle cx="828" cy="468.3" r="2" fill="#3a3a40"/><circle cx="828" cy="472.5" r="2" fill="#3a3a48"/>
    <circle cx="828" cy="476.5" r="2" fill="#3a4a70"/><circle cx="828" cy="480.6" r="2" fill="#d89a20"/>
    <g fill="#b8bcc4"><rect x="826" y="485" width="4" height="1"/><rect x="826" y="488" width="4" height="1"/><rect x="826" y="491" width="4" height="1"/><rect x="826" y="494" width="4" height="1"/></g>
    <rect x="825.5" y="498" width="5" height="5.5" fill="#f4f4f4" stroke="#9aa" stroke-width="0.5"/>
  </g>
  <!-- right panel -->
  <rect x="898.5" y="456" width="15.5" height="40" fill="#dcdfe4" stroke="#b8bcc4" stroke-width="0.5"/>
  <rect x="914.5" y="456" width="14" height="40" fill="#dcdfe4" stroke="#b8bcc4" stroke-width="0.5"/>
  <g fill="#6a6e76">
    <rect x="900" y="459" width="3" height="1.5"/><rect x="904" y="459" width="3" height="1.5"/><rect x="908" y="459" width="3" height="1.5"/>
    <rect x="900" y="463" width="3" height="1.5"/><rect x="904" y="463" width="3" height="1.5"/><rect x="908" y="463" width="3" height="1.5"/>
    <rect x="900" y="468" width="3" height="1.5"/><rect x="904" y="468" width="3" height="1.5"/><rect x="908" y="468" width="3" height="1.5"/>
    <rect x="900" y="472" width="3" height="1.5"/><rect x="904" y="472" width="3" height="1.5"/>
    <rect x="917" y="459" width="3" height="1.5"/><rect x="921" y="459" width="3" height="1.5"/><rect x="917" y="463" width="3" height="1.5"/><rect x="921" y="463" width="3" height="1.5"/>
    <rect x="900" y="491" width="3" height="1.5"/><rect x="904" y="491" width="3" height="1.5"/><rect x="908" y="491" width="3" height="1.5"/>
    <rect x="917" y="492" width="3" height="1.5"/><rect x="921" y="492" width="3" height="1.5"/>
  </g>
  <g fill="#3a3e48"><rect x="909.5" y="470" width="3" height="2.5"/><rect x="909.5" y="474" width="3" height="2.5"/><rect x="909.5" y="478" width="3" height="2.5"/><rect x="909.5" y="482" width="3" height="2.5"/>
  <rect x="900" y="482" width="3" height="2.5"/><rect x="904" y="482" width="3" height="2.5"/></g>
  <circle cx="922" cy="474.2" r="5.5" fill="#d2d5da" stroke="#6a6e74" stroke-width="1.4"/>
  <ellipse cx="922" cy="485.5" rx="6" ry="3.6" fill="#2a2c30"/>
  <ellipse cx="922" cy="485.5" rx="2.2" ry="1.6" fill="#ddd"/>
  <g>
    <g fill="#c8c8c8" stroke="#8a8a8a" stroke-width="0.5">
      <circle cx="935.5" cy="467.5" r="2.9"/><circle cx="944.8" cy="467.5" r="2.9"/>
      <circle cx="935.5" cy="477" r="2.9"/><circle cx="944.8" cy="477" r="2.9"/>
      <circle cx="935.5" cy="486.5" r="2.9"/><circle cx="944.8" cy="486.5" r="2.9"/>
    </g>
    <g fill="#5a4a30">
      <circle cx="936.3" cy="467" r="1.6"/><circle cx="945.6" cy="467" r="1.6"/>
      <circle cx="936.3" cy="476.5" r="1.6"/><circle cx="945.6" cy="476.5" r="1.6"/>
      <circle cx="936.3" cy="486" r="1.6"/><circle cx="945.6" cy="486" r="1.6"/>
    </g>
    <g fill="#c8b890"><circle cx="936.3" cy="467" r="0.6"/><circle cx="945.6" cy="467" r="0.6"/><circle cx="936.3" cy="476.5" r="0.6"/><circle cx="945.6" cy="476.5" r="0.6"/><circle cx="936.3" cy="486" r="0.6"/><circle cx="945.6" cy="486" r="0.6"/></g>
  </g>
  <rect x="929" y="456" width="0.7" height="40" fill="#9aa0b0"/>
  <rect x="897.5" y="496.5" width="55" height="0.7" fill="#9aa0b0"/>
  <rect x="900.5" y="497.8" width="3.2" height="5.5" rx="1.2" fill="#1e1e20"/>
  <g fill="#b8b4a8" stroke="#555" stroke-width="0.6"><circle cx="909" cy="500.5" r="2"/><circle cx="929.5" cy="500.5" r="2.2"/><circle cx="936" cy="500.5" r="2.2"/><circle cx="942.5" cy="500.5" r="2.2"/><circle cx="949" cy="500.5" r="2.2"/></g>
  <g fill="#6a5a40"><circle cx="929.5" cy="500.5" r="0.9"/><circle cx="936" cy="500.5" r="0.9"/><circle cx="942.5" cy="500.5" r="0.9"/><circle cx="949" cy="500.5" r="0.9"/></g>
  <rect x="914.5" y="498.5" width="4" height="3.5" fill="#8a8a8a" stroke="#555" stroke-width="0.4"/>
  <rect x="920.5" y="499.5" width="4" height="2" fill="#555"/>
</g>
<!-- EVP cabinet -->
<g id="evp">
  <rect x="38" y="219" width="91" height="147" fill="url(#gCab)"/>
  <text x="49" y="227" font-family="Liberation Sans" font-size="5.5" font-weight="bold" font-style="italic" fill="#222" textLength="14" lengthAdjust="spacingAndGlyphs">Ainuo</text>
  <rect x="93.5" y="252" width="25.5" height="21.5" fill="#1c1c1e" rx="1"/>
  <rect x="97" y="255.5" width="16" height="10" fill="#2a6fd8"/>
  <rect x="101" y="257.5" width="3" height="2.5" fill="#9ad0ff"/><rect x="106" y="257.5" width="3" height="2.5" fill="#9ad0ff"/><rect x="101" y="261" width="3" height="2.5" fill="#9ad0ff"/><rect x="106" y="261" width="3" height="2.5" fill="#9ad0ff"/>
  <circle cx="115.5" cy="267.5" r="1" fill="#3c3"/><circle cx="115.5" cy="270.5" r="1" fill="#d33"/>
  <rect x="98" y="268" width="12" height="2" fill="#555"/>
  <rect x="84.5" y="287" width="3" height="10.5" fill="#2a2a2a"/>
  <circle cx="106" cy="288" r="3.6" fill="#e8c93a"/><circle cx="106" cy="288" r="2.4" fill="#d5261e"/>
  <g>
    <rect x="49" y="315" width="23" height="18.5" fill="#e2e2e2" stroke="#9c9c9c" stroke-width="0.6"/>
    <rect x="51" y="317" width="19.5" height="15" fill="url(#pVent)"/>
    <rect x="49" y="335.5" width="23" height="20.5" fill="#e2e2e2" stroke="#9c9c9c" stroke-width="0.6"/>
    <rect x="51" y="337.5" width="19.5" height="16.5" fill="url(#pVent)"/>
    <rect x="95" y="315" width="23" height="18.5" fill="#e2e2e2" stroke="#9c9c9c" stroke-width="0.6"/>
    <rect x="97" y="317" width="19.5" height="15" fill="url(#pVent2)"/>
    <rect x="95" y="335.5" width="23" height="20.5" fill="#e2e2e2" stroke="#9c9c9c" stroke-width="0.6"/>
    <rect x="97" y="337.5" width="19.5" height="16.5" fill="url(#pVent2)"/>
  </g>
  <rect x="38" y="365" width="91" height="8.5" fill="#111"/>
  <g fill="#eee">
    <rect x="58" y="367.5" width="4" height="3"/><rect x="64" y="367.5" width="4" height="3"/>
    <rect x="71" y="367.5" width="1.5" height="3"/><rect x="77" y="366.5" width="2" height="5"/>
    <rect x="82" y="366.5" width="2.5" height="5"/><rect x="88" y="366.5" width="2" height="5"/>
    <rect x="92" y="367.5" width="1" height="3"/><rect x="96" y="367.5" width="5" height="3"/><rect x="103" y="367.5" width="5" height="3"/>
  </g>
</g>
</svg>
<div class="title">动力电池测试解决方案</div>

<svg width="1000" height="589" viewBox="0 0 1000 589" style="z-index:2">
  <g stroke="#2153b8" stroke-width="2.5" fill="none">
    <polyline points="243,142 175,142 175,297"/>
    <line x1="128" y1="306" x2="224" y2="306"/>
    <line x1="461" y1="306" x2="530" y2="306"/>
    <polyline points="812,154 955,154 955,346.5 938,346.5"/>
    <line x1="938" y1="265.5" x2="955" y2="265.5"/>
    <line x1="836" y1="279" x2="854" y2="279"/>
    <line x1="836" y1="337.5" x2="862" y2="337.5"/>
    <line x1="722.5" y1="390" x2="722.5" y2="478.5"/>
    <line x1="448" y1="478.5" x2="809" y2="478.5"/>
  </g>
  <g fill="#2153b8">
    <polygon points="175,305 170,295 175,296.5 180,295"/><polygon points="232,306 222,301 223.5,306 222,311"/><polygon points="453,306 463,301 461.5,306 463,311"/><polygon points="538.4,306 528.4,301 529.9,306 528.4,311"/><polygon points="828,279 838,273.9 836.5,279 838,284.1"/><polygon points="861.7,279 851.7,273.9 853.2,279 851.7,284.1"/><polygon points="828,337.5 838,332.4 836.5,337.5 838,342.6"/><polygon points="440,478.5 450,473.5 448.5,478.5 450,483.5"/><polygon points="817.3,478.5 807.3,473.5 808.8,478.5 807.3,483.5"/>
  </g>
</svg>

<div class="lbl" style="left:3px;top:389px;font-size:16px;letter-spacing:0.2px">电池包充放电</div>
<div class="lbl lat" style="left:100.5px;top:389px;font-size:16px;transform:scaleX(0.83)">EVP</div>
<div class="lbl" style="left:126.5px;top:389px;font-size:16px;letter-spacing:0.6px">系统</div>
<div class="lbl" style="left:245px;top:186px;font-size:16px;letter-spacing:0.55px">高精度功率分析仪</div>
<div class="lbl lat" style="left:377.5px;top:186px;font-size:16px;transform:scaleX(0.8)">ANPM600</div>
<div class="lbl" style="left:306px;top:389px;font-size:16px;letter-spacing:0.8px">动力电池</div>
<div class="lbl" style="left:530px;top:389px;font-size:16px;letter-spacing:0.8px">测试治具</div>
<div class="lbl" style="left:672px;top:365px;font-size:16px;letter-spacing:0.6px">系统转换单元</div>
<div class="lbl" style="left:695px;top:221px;font-size:16px;letter-spacing:1.2px">工控机</div>
<div class="lbl lat" style="left:877px;top:296px;font-size:18px;transform:scaleX(0.7)">CAN</div>
<div class="lbl" style="left:905px;top:296px;font-size:18px">卡</div>
<div class="lbl" style="left:873px;top:378px;font-size:18px;letter-spacing:0.7px">控制卡</div>
<div class="lbl" style="left:249px;top:538px;font-size:16px;letter-spacing:0.7px">大功率直流电子负载</div>
<div class="lbl lat" style="left:399.5px;top:538px;font-size:16px;transform:scaleX(0.82)">AN236</div>
<div class="lbl" style="left:864px;top:520px;font-size:16px;letter-spacing:0.5px">示波器</div>
</body></html>
